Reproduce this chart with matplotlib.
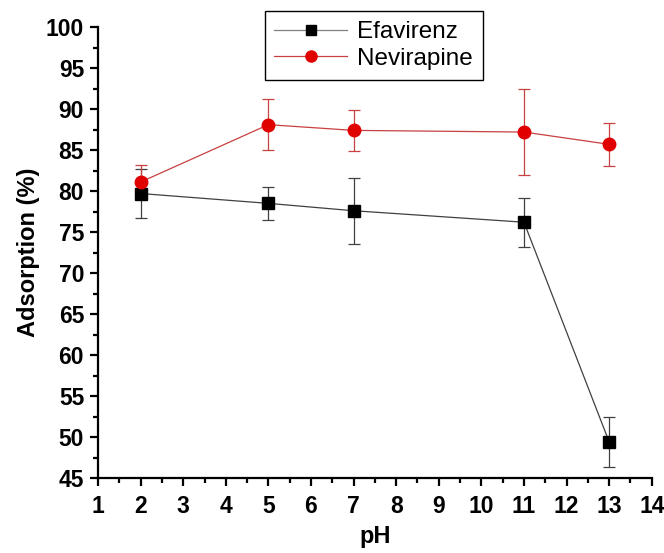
import numpy as np
import matplotlib
matplotlib.use("Agg")
import matplotlib.pyplot as plt
from matplotlib.ticker import MultipleLocator
from matplotlib.lines import Line2D

plt.rcParams['font.family'] = ['Liberation Sans', 'DejaVu Sans']

# --- datos ---
ph = [2, 5, 7, 11, 13]
efavirenz = [79.7, 78.5, 77.6, 76.2, 49.4]
efavirenz_err = [3.0, 2.0, 4.0, 3.0, 3.0]
nevirapine = [81.1, 88.1, 87.4, 87.2, 85.7]
nevirapine_err = [2.1, 3.1, 2.5, 5.2, 2.6]

c_efa = 'black'
c_efa_line = '#404040'
c_nev = '#e00000'
c_nev_line = '#c84040'

fig = plt.figure(figsize=(6.64, 5.53), dpi=100)
ax = fig.add_axes([0.1476, 0.1356, 0.834, 0.8154])

ax.errorbar(ph, efavirenz, yerr=efavirenz_err, color=c_efa_line, linewidth=0.9,
            elinewidth=0.9, capsize=4, capthick=0.9,
            marker='s', markersize=8, markerfacecolor=c_efa, markeredgecolor=c_efa)
ax.errorbar(ph, nevirapine, yerr=nevirapine_err, color=c_nev_line, linewidth=0.9,
            elinewidth=0.9, capsize=4, capthick=0.9,
            marker='o', markersize=9, markerfacecolor=c_nev, markeredgecolor=c_nev)

ax.set_xlim(1, 14)
ax.set_ylim(45, 100)
ax.xaxis.set_major_locator(MultipleLocator(1))
ax.xaxis.set_minor_locator(MultipleLocator(0.5))
ax.yaxis.set_major_locator(MultipleLocator(5))
ax.yaxis.set_minor_locator(MultipleLocator(2.5))

ax.spines['top'].set_visible(False)
ax.spines['right'].set_visible(False)
ax.spines['left'].set_linewidth(1.6)
ax.spines['bottom'].set_linewidth(1.6)
ax.tick_params(axis='both', which='major', direction='out', length=6, width=1.6,
               labelsize=16.5, pad=4)
ax.tick_params(axis='x', which='major', pad=6)
ax.tick_params(axis='both', which='minor', direction='out', length=3.5, width=1.6)
for lbl in ax.get_xticklabels() + ax.get_yticklabels():
    lbl.set_fontweight('bold')

ax.set_xlabel('pH', fontsize=17, fontweight='bold', labelpad=5)
ax.set_ylabel('Adsorption (%)', fontsize=17, fontweight='bold', labelpad=4)

handles = [
    Line2D([], [], color='#808080', linewidth=0.9, marker='s', markersize=7,
           markerfacecolor=c_efa, markeredgecolor=c_efa),
    Line2D([], [], color=c_nev_line, linewidth=0.9, marker='o', markersize=8,
           markerfacecolor=c_nev, markeredgecolor=c_nev),
]
leg = ax.legend(handles, ['Efavirenz', 'Nevirapine'], loc='upper left',
                bbox_to_anchor=(0.301, 1.035), fontsize=17.5,
                frameon=True, fancybox=False, edgecolor='black', framealpha=1,
                handlelength=3.0, handletextpad=0.4, borderpad=0.4,
                labelspacing=0.2, borderaxespad=0)
leg.get_frame().set_linewidth(1.0)

fig.savefig('out.png', dpi=100)
